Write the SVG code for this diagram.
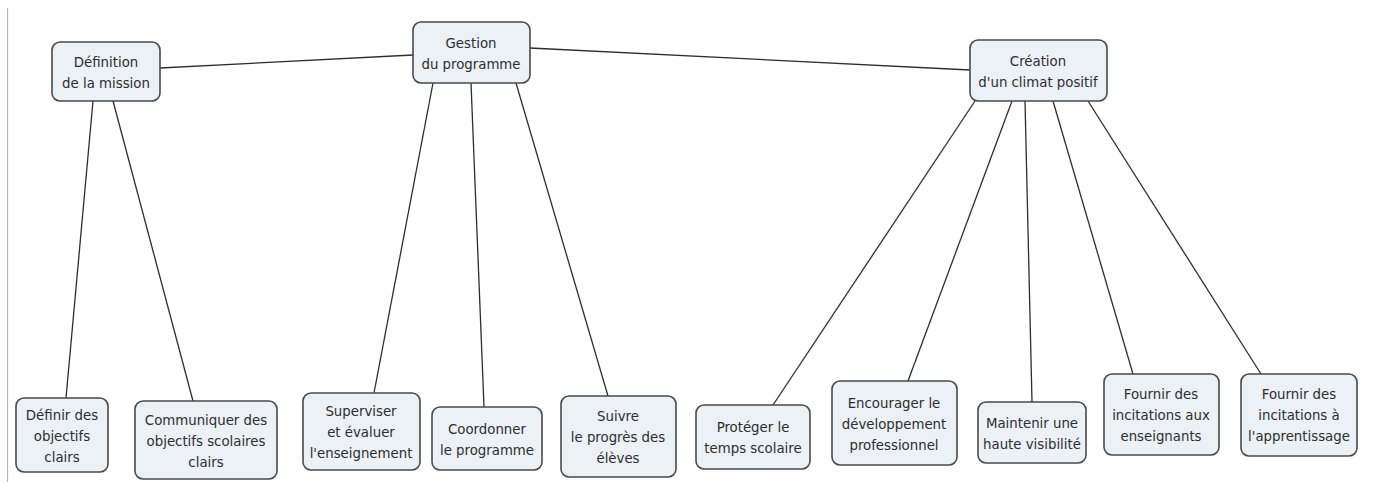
<svg xmlns="http://www.w3.org/2000/svg" width="1377" height="482" viewBox="0 0 1377 482">
  <style>
    .node rect { fill: #ebf1f4; stroke: #4a4a4a; stroke-width: 1.6; }
    .node text { font-family: "DejaVu Sans Condensed", "DejaVu Sans", sans-serif; font-stretch: condensed; font-size: 14.8px; fill: #2e2e2e; text-anchor: middle; }
    #connectors line { stroke: #2e2e2e; stroke-width: 1.3; }
  </style>
  <rect width="1377" height="482" fill="#ffffff"/>
  <line x1="7.5" y1="8" x2="7.5" y2="482" stroke="#bbbbbb" stroke-width="1.2"/>

  <g id="connectors">
    <line x1="160" y1="68" x2="413" y2="55"/>
    <line x1="530" y1="48" x2="970" y2="70"/>
    <line x1="93" y1="101" x2="66" y2="398"/>
    <line x1="113" y1="101" x2="193" y2="401"/>
    <line x1="433" y1="83" x2="374" y2="393"/>
    <line x1="471" y1="83" x2="484" y2="407"/>
    <line x1="516" y1="83" x2="608" y2="396"/>
    <line x1="975" y1="101" x2="773" y2="405"/>
    <line x1="1012" y1="101" x2="908" y2="381"/>
    <line x1="1025" y1="101" x2="1032" y2="402"/>
    <line x1="1053" y1="101" x2="1133" y2="374"/>
    <line x1="1088" y1="101" x2="1261" y2="374"/>
  </g>

  <g id="definition-mission" class="node">
    <rect x="52" y="42" width="108" height="59" rx="8"/>
    <text x="106" y="67">Définition</text>
    <text x="106" y="88">de la mission</text>
  </g>
  <g id="gestion-programme" class="node">
    <rect x="413" y="22" width="117" height="61" rx="8"/>
    <text x="471" y="48">Gestion</text>
    <text x="471" y="69">du programme</text>
  </g>
  <g id="creation-climat" class="node">
    <rect x="970" y="40" width="137" height="61" rx="8"/>
    <text x="1038" y="66">Création</text>
    <text x="1038" y="87">d'un climat positif</text>
  </g>

  <g id="definir-objectifs" class="node">
    <rect x="16" y="398" width="92" height="74" rx="8"/>
    <text x="62" y="420">Définir des</text>
    <text x="62" y="441">objectifs</text>
    <text x="62" y="462">clairs</text>
  </g>
  <g id="communiquer-objectifs" class="node">
    <rect x="135" y="401" width="142" height="78" rx="8"/>
    <text x="206" y="425">Communiquer des</text>
    <text x="206" y="446">objectifs scolaires</text>
    <text x="206" y="467">clairs</text>
  </g>
  <g id="superviser" class="node">
    <rect x="303" y="393" width="117" height="77" rx="8"/>
    <text x="361" y="416">Superviser</text>
    <text x="361" y="437">et évaluer</text>
    <text x="361" y="458">l'enseignement</text>
  </g>
  <g id="coordonner" class="node">
    <rect x="432" y="407" width="110" height="63" rx="8"/>
    <text x="487" y="434">Coordonner</text>
    <text x="487" y="455">le programme</text>
  </g>
  <g id="suivre" class="node">
    <rect x="561" y="396" width="115" height="81" rx="8"/>
    <text x="618" y="421">Suivre</text>
    <text x="618" y="442">le progrès des</text>
    <text x="618" y="463">élèves</text>
  </g>
  <g id="proteger" class="node">
    <rect x="696" y="405" width="114" height="64" rx="8"/>
    <text x="753" y="432">Protéger le</text>
    <text x="753" y="453">temps scolaire</text>
  </g>
  <g id="encourager" class="node">
    <rect x="832" y="381" width="125" height="84" rx="8"/>
    <text x="894" y="408">Encourager le</text>
    <text x="894" y="429">développement</text>
    <text x="894" y="450">professionnel</text>
  </g>
  <g id="maintenir" class="node">
    <rect x="978" y="402" width="108" height="61" rx="8"/>
    <text x="1032" y="428">Maintenir une</text>
    <text x="1032" y="449">haute visibilité</text>
  </g>
  <g id="incitations-enseignants" class="node">
    <rect x="1104" y="374" width="115" height="81" rx="8"/>
    <text x="1161" y="399">Fournir des</text>
    <text x="1161" y="420">incitations aux</text>
    <text x="1161" y="441">enseignants</text>
  </g>
  <g id="incitations-apprentissage" class="node">
    <rect x="1241" y="374" width="116" height="82" rx="8"/>
    <text x="1299" y="399">Fournir des</text>
    <text x="1299" y="420">incitations à</text>
    <text x="1299" y="441">l'apprentissage</text>
  </g>
</svg>
